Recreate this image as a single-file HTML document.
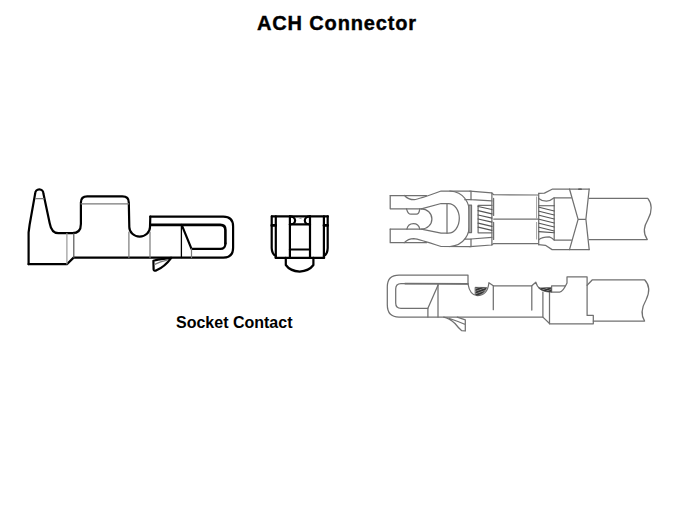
<!DOCTYPE html>
<html><head><meta charset="utf-8">
<style>
html,body{margin:0;padding:0;background:#fff;width:675px;height:506px;overflow:hidden;}
.t{position:absolute;font-family:"Liberation Sans",sans-serif;font-weight:bold;color:#000;white-space:nowrap;line-height:1;}
#title{left:257px;top:13px;font-size:20px;letter-spacing:0.85px;-webkit-text-stroke:0.4px #000;}
#sub{left:176px;top:315px;font-size:16px;}
svg{position:absolute;left:0;top:0;}
</style></head><body>
<div class="t" id="title">ACH Connector</div>
<div class="t" id="sub">Socket Contact</div>
<svg width="675" height="506" viewBox="0 0 675 506" fill="none" stroke-linecap="round" stroke-linejoin="round">
<!-- left side view -->
<g stroke="#000" stroke-width="2.2">
<path d="M28.6 264.2 L28.6 232.5 L29.7 224.2 L35.2 193.4 A4.1 4.1 0 0 1 43.4 193.4 L49.7 223.3 Q51.5 233.2 58.3 233.2 L72.3 233.2 Q80.9 233.2 80.9 224 L80.9 202.6 Q80.9 196.4 87.2 196.4 L122.4 196.4 Q128.8 196.4 128.8 202.6 L129.3 227 A10.35 9.6 0 0 0 150 227 L150.3 216.7"/>
<path d="M28.6 264.2 L66.9 264.2 L73.6 257.6 L223.3 257.6 Q233.1 257.6 233.1 247.8 L233.1 226.5 Q233.1 216.7 223.3 216.7 L150.3 216.7"/>
<path d="M150.3 224.9 L220.3 224.9 Q225.4 224.9 225.4 230 L225.4 243.4" stroke-width="2.6"/>
<path d="M181.7 224.9 L191.5 248.9 L220.3 248.9 Q225.4 248.9 225.4 243.4"/>
<path d="M153.4 260.8 L158 259.6 L171.3 257.8 M153.4 260.8 L153.6 269.4 Q153.8 271 156 270.6 Q165 266.5 171.3 257.8"/>
<path d="M181.4 224.9 L181.4 257.6" stroke-width="1.3"/>
</g>
<g stroke="#7a7a7a" stroke-width="1.2">
<path d="M35.5 198.7 L43.8 198.7"/>
<path d="M81 203.8 L128.7 203.8"/>
<path d="M66.9 233.5 L66.9 264" stroke="#999"/>
<path d="M73.8 233.5 L73.8 257.6" stroke="#555"/>
<path d="M128.9 232 L128.9 257.6"/>
<path d="M150 232 L150 257.6"/>
<path d="M191.5 248.9 L191.5 257.6"/>
<path d="M154.7 264.4 Q160 261.5 167.8 259.9"/>
</g>
<!-- front view -->
<g stroke="#000" stroke-width="2.2">
<path d="M271.9 216.4 L327.9 216.4"/>
<path d="M271.7 216.4 L271.7 248 Q271.9 254 275.8 256 M327.7 216.4 L327.7 248 Q327.5 254 323.9 256"/>
<path d="M275.8 216.4 L275.8 257.8 M289.9 216.4 L289.9 257.8 M310 216.4 L310 257.8 M323.9 216.4 L323.9 257.8"/>
<path d="M275.6 257.8 L324.2 257.8"/>
<path d="M271.7 225.4 L275.8 225.4 M323.9 225.4 L327.7 225.4" stroke-width="2.6"/>
<path d="M289.9 224.4 L310 224.4 M289.9 249.5 L310 249.5"/>
<path d="M289.9 216.4 A5.2 4 0 0 1 289.9 224.4 M310 216.4 A5.2 4 0 0 0 310 224.4"/><path d="M298.8 217.8 L301.2 218.6" stroke="#999" stroke-width="1"/>
<path d="M285.8 257.8 L285.8 265 Q290 271 299.7 271.6 Q309 271 313.4 265 L313.4 257.8"/>
</g>
<!-- right top view -->
<g stroke="#707070" stroke-width="1.25" transform="translate(0 0.4)">
<path d="M390.2 195.1 L390.2 208.4 L421.3 208.4 M390.2 228.7 L390.2 242.3 L426.5 242.3"/>
<path d="M390.2 195.1 L426.5 195.1"/>
<path d="M404.6 195.1 Q408 199.3 414.3 199.3 Q418 199 441.1 190.6 L470 190.8"/>
<path d="M404.3 242.3 Q408 238.2 413.9 238.2 Q418 238.5 441.1 246.1 L470 246.3"/>
<path d="M406.5 208.4 Q408 213.8 411 213.8 L416.5 213.8 Q419 213.8 419.8 208.4"/>
<path d="M406.9 228.7 Q408 223.2 413.4 223.2 Q418.6 223.2 419.8 228.7"/>
<path d="M421.3 208.4 A10.6 10.15 0 0 1 421.3 228.7 L390.2 228.7"/>
<path d="M421.3 208.4 L441.1 203.1 L448.5 203.1 A10.8 14.85 0 0 1 448.5 232.8 L441.1 232.8 L421.3 228.7"/>
<path d="M447 203.1 L447 232.8"/>
<path d="M450 190.6 Q470 192 470.5 218.4 Q470 244.5 450 246.1"/>
<path d="M468.8 204.8 L471.5 204.8 L471.5 232.2 L468.8 232.2 Z" fill="#b0b0b0"/>
<path d="M471 190.6 L471 199.3 L491.9 200.5 M471 246.1 L471 238.6 L491.9 236.9"/>
<path d="M464.8 199.3 L471 199.3 M464.8 238.6 L471 238.6"/>
<path d="M470 190.8 L491.5 192.4 L493.7 194.3 L537.7 194.6 M470 246.3 L491.5 244.6 L493.7 243.1 L537.7 243.1"/>
<path d="M491.9 192.4 L491.9 244.6 M493.6 198 L493.6 215 M493.6 222 L493.6 239"/>
<path d="M478.1 205 L491.9 205 M478.1 205 L478.1 232.4 L491.9 232.4"/>
<path d="M478.1 206.1 L491.9 209.1 M478.1 210.3 L491.9 213.4 M478.1 214.6 L491.9 217.7 M478.1 218.6 L491.9 221.8 M478.1 222.8 L491.9 225.9 M478.1 226.8 L491.9 230" stroke="#555"/>
<path d="M493.7 218.6 L538 218.6"/>
<path d="M538.7 193 L538.7 244.3"/><path d="M536.6 196.6 L536.6 217.7 M536.6 222 L536.6 238.7" stroke-width="0.8" stroke="#888"/><path d="M578.8 188.9 L581.2 188.9" stroke="#222" stroke-width="1.6"/>
<path d="M538.7 193 L544.4 192.7 L552.6 188.6 L589.2 188.6 M589.2 249.2 L552.1 249.2 L545.4 244.9 L538.7 244.3"/>
<path d="M538.7 198 Q542 200.8 546.4 200.8 Q550.5 200.5 554.2 197.4 L571.4 197.4 M538.7 239.3 Q542 236.4 549.3 236.4 Q551.5 237 554.2 239.6 L571.4 239.6"/>
<path d="M554.2 197.4 L554.2 239.6"/>
<path d="M539 205.4 L554.2 205.4 M539 206.8 L554.2 210.6 M539 210.8 L554.2 214.6 M539 214.8 L554.2 218.6 M539 218.8 L554.2 222.6 M539 222.8 L554.2 226.6 M539 226.8 L554.2 230.6 M539 231.2 L554.2 232.3" stroke="#555" stroke-width="1.1"/>
<path d="M569.5 188.6 L578.1 218.9 L569.5 249.2 M589.2 188.6 L585.9 218.9 L589.2 249.2 M578.1 218.9 L585.9 218.9"/>
<path d="M589.2 197.9 L647.8 197.9 C652 203, 652.5 211, 648 219 C644 226, 642.5 232, 647.3 239.2 L589.2 239.2"/>
</g>
<!-- right bottom view -->
<g stroke="#707070" stroke-width="1.25">
<path d="M468 284 L468 275.1 L399 275.1 Q387.3 275.1 387.3 286.8 L387.3 304.8 Q387.3 317.1 399 317.1 L542.9 317.1 L549.8 323.8 L593.3 323.8 L593.3 315.4 L587.1 315.4 L587.1 276.9 L567 276.9 L567 283.1 Q563 292 559.6 292 L551.6 292 L551.6 285.8 L565 285.8"/>
<path d="M438.1 283.6 L401 283.6 Q395.7 283.6 395.7 289 L395.7 303 Q395.7 308.3 401 308.3 L427.9 308.3 L438.1 284.9"/>
<path d="M427.9 308.3 L427.9 317.1 M438 284.5 L438 317.1"/><path d="M405 283.6 L468 283.9" stroke-width="1.6"/>
<path d="M438.1 283.6 L468 284 Q470 295.6 477.3 295.6 Q487.5 295.6 488.9 282.7 L493.3 285.8 L531.8 285.8 L535.8 282.2 Q537.5 291 551.6 292"/>
<path d="M493.3 285.8 L493.3 309.7 M531.8 285.8 L531.8 310 M542.9 292 L542.9 317.1 M549.5 292 L549.5 323.8"/>
<path d="M443.7 317.1 Q449 318 455 323.5 Q459 328.5 461.5 330.6 L465.3 331 L465.3 319.8 L457.3 317.1 M449.6 318.5 Q457 321 465.3 324.5"/>
<path d="M587.1 285.3 L592.4 279.8 L644.6 279.8 C649.5 285, 650 292, 646 300 C642 307, 640 314, 644.6 321 L593.3 321"/>
</g>
<defs><pattern id="hp" width="2.4" height="2.4" patternUnits="userSpaceOnUse" patternTransform="rotate(-20)"><rect width="2.4" height="2.4" fill="#333"/><rect y="1.7" width="2.4" height="0.7" fill="#999"/></pattern></defs>
<g fill="url(#hp)" stroke="#444" stroke-width="0.6">
<path d="M475.4 287.3 L486.8 287.5 Q484 294.5 477 295.5 L475.4 294.5 Z"/>
<path d="M539 288 L550.8 287.4 L551.4 292 Q546 292.3 542 290.5 Z"/>
</g>
</svg>
</body></html>
